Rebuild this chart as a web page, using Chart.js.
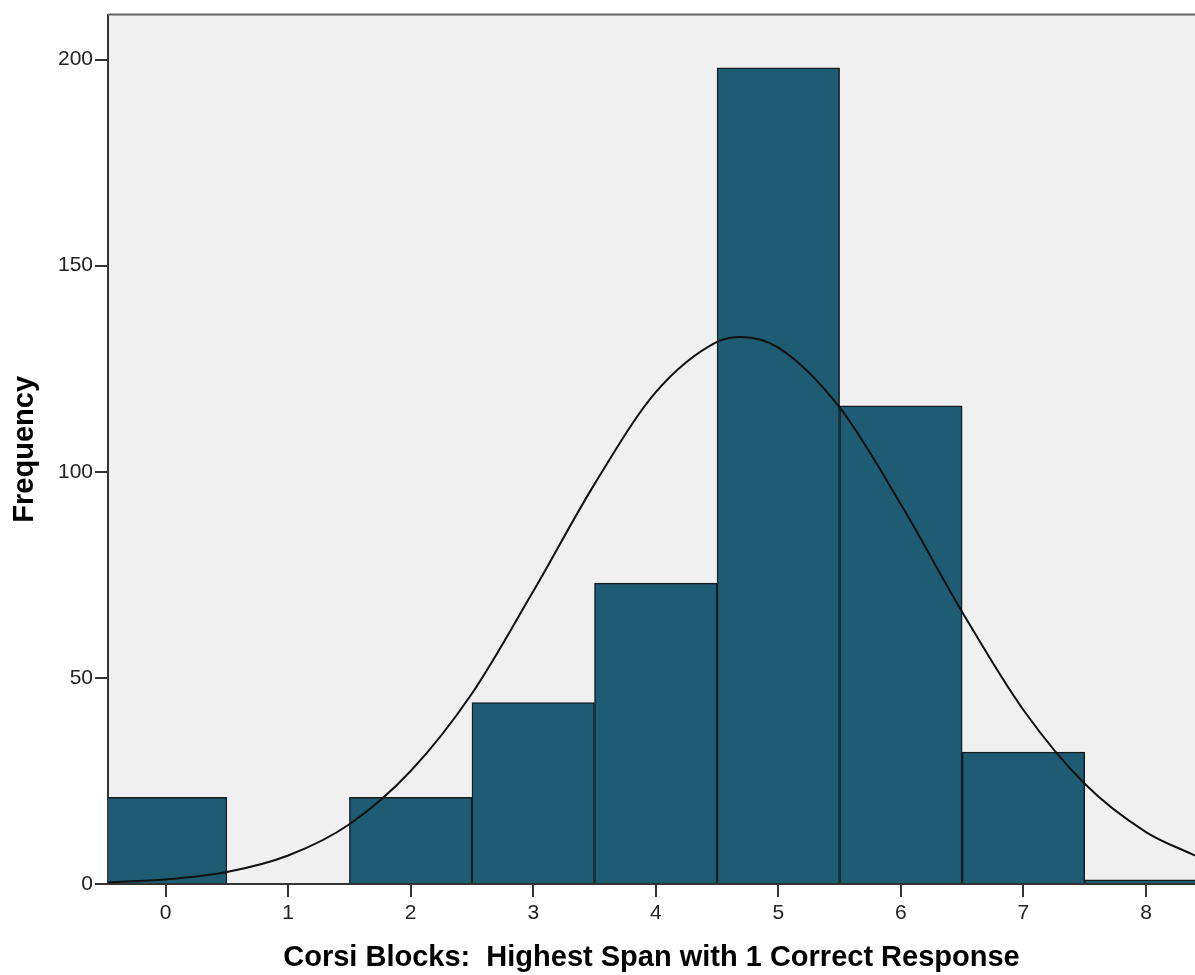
<!DOCTYPE html>
<html>
<head>
<meta charset="utf-8">
<script src="https://cdn.jsdelivr.net/npm/chart.js@4.4.1/dist/chart.umd.min.js"></script>
<style>
    body { margin: 0; background: #fff; }
    #wrap { width: 1195px; height: 975px; position: relative; }
</style>
</head>
<body>
<div id="wrap"><canvas id="histChart"></canvas></div>
<script>
// histogram bins (span value) and counts
const binValues = [0, 1, 2, 3, 4, 5, 6, 7, 8];
const frequencies = [21, 0, 21, 44, 73, 198, 116, 32, 1];

// normal curve
const curveX = [-0.47, 0, 0.5, 1, 1.5, 2, 2.5, 3, 3.5, 4, 4.5, 4.7, 5, 5.5, 6, 6.5, 7, 7.5, 8, 8.4];
const curveY = [0.4, 1.1, 2.9, 6.9, 14.5, 27.4, 46.2, 71.0, 97.0, 119.3, 131.5, 132.7, 130.1, 115.6, 92.1, 66.0, 42.2, 24.3, 12.6, 6.9];

const xTicks = [0, 1, 2, 3, 4, 5, 6, 7, 8];
const yTicks = [0, 50, 100, 150, 200];

const plotBackground = {
    id: 'plotBackground',
    beforeDraw(chart) {
        const { ctx, chartArea } = chart;
        ctx.save();
        ctx.fillStyle = '#f0f0f0';
        ctx.fillRect(chartArea.left, chartArea.top, chartArea.right - chartArea.left, chartArea.bottom - chartArea.top);
        ctx.restore();
    },
    afterDraw(chart) {
        const { ctx, chartArea } = chart;
        ctx.save();
        ctx.strokeStyle = '#666';
        ctx.lineWidth = 2;
        ctx.beginPath();
        ctx.moveTo(chartArea.left, chartArea.top);
        ctx.lineTo(chartArea.right, chartArea.top);
        ctx.stroke();
        ctx.restore();
    }
};

const ctx = document.getElementById('histChart').getContext('2d');
new Chart(ctx, {
    type: 'bar',
    data: {
        datasets: [
            {
                type: 'line',
                data: curveX.map((x, i) => ({ x: x, y: curveY[i] })),
                borderColor: '#111',
                borderWidth: 2,
                pointRadius: 0,
                fill: false,
                cubicInterpolationMode: 'monotone',
                order: 0
            },
            {
                type: 'bar',
                data: binValues.map((x, i) => ({ x: x, y: frequencies[i] })),
                backgroundColor: '#1e5c74',
                borderColor: '#151c20',
                borderWidth: 1.5,
                barPercentage: 1,
                categoryPercentage: 1,
                order: 1
            }
        ]
    },
    plugins: [plotBackground],
    options: {
        responsive: true,
        maintainAspectRatio: false,
        animation: false,
        layout: { padding: { top: 13, right: 0, left: 0, bottom: 0 } },
        plugins: {
            legend: { display: false },
            tooltip: { enabled: false }
        },
        scales: {
            x: {
                type: 'linear',
                min: -0.47,
                max: 8.4,
                offset: false,
                afterBuildTicks: s => { s.ticks = xTicks.map(v => ({ value: v })); },
                afterFit: s => { s.height = 91; },
                ticks: {
                    color: '#222',
                    font: { family: 'Liberation Sans, Arial, sans-serif', size: 21 },
                    padding: 4,
                    maxRotation: 0
                },
                grid: {
                    display: true,
                    offset: false,
                    drawOnChartArea: false,
                    drawTicks: true,
                    tickLength: 13,
                    color: '#333',
                    lineWidth: 2
                },
                border: { display: true, color: '#333', width: 2 },
                title: {
                    display: true,
                    text: 'Corsi Blocks:  Highest Span with 1 Correct Response',
                    color: '#000',
                    font: { family: 'Liberation Sans, Arial, sans-serif', size: 29, weight: 'bold' },
                    padding: { top: 0, bottom: 0 }
                }
            },
            y: {
                min: 0,
                max: 210.9,
                afterBuildTicks: s => { s.ticks = yTicks.map(v => ({ value: v })); },
                afterFit: s => { s.width = 108; },
                ticks: {
                    color: '#222',
                    font: { family: 'Liberation Sans, Arial, sans-serif', size: 21 },
                    padding: 2
                },
                grid: {
                    display: true,
                    drawOnChartArea: false,
                    drawTicks: true,
                    tickLength: 13,
                    color: '#333',
                    lineWidth: 2
                },
                border: { display: true, color: '#333', width: 2 },
                title: {
                    display: true,
                    text: 'Frequency',
                    color: '#000',
                    font: { family: 'Liberation Sans, Arial, sans-serif', size: 29, weight: 'bold' },
                    padding: { top: 8, bottom: 0 }
                }
            }
        }
    }
});
</script>
</body>
</html>
